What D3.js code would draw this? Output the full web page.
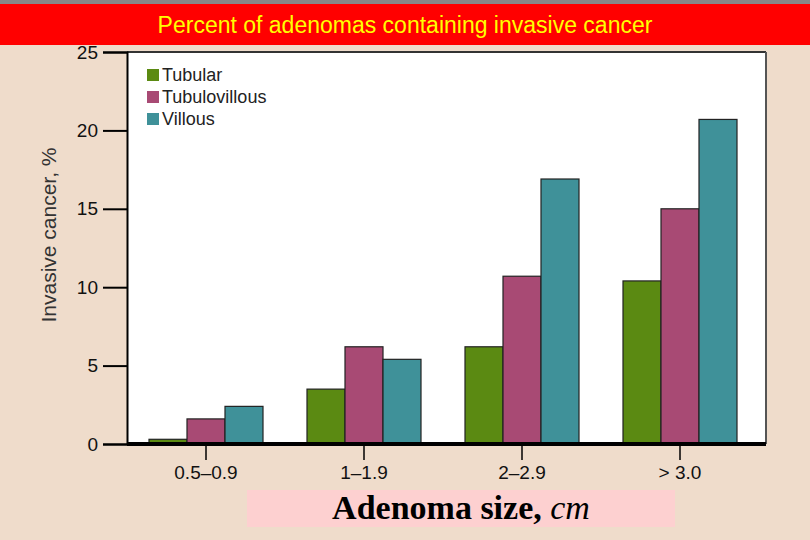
<!DOCTYPE html>
<html><head><meta charset="utf-8">
<script src="https://cdn.jsdelivr.net/npm/d3@7"></script>
<style>body{margin:0;background:#efdccb}</style>
</head><body>
<svg id="chart" width="810" height="540"></svg>
<script>
const categories = ["0.5–0.9", "1–1.9", "2–2.9", "> 3.0"];
const seriesNames = ["Tubular", "Tubulovillous", "Villous"];
const tubular = [0.3, 3.5, 6.2, 10.4];
const tubulovillous = [1.6, 6.2, 10.7, 15.0];
const villous = [2.4, 5.4, 16.9, 20.7];
const yTicks = [0, 5, 10, 15, 20, 25];
const colors = ["#5b8a12", "#a84a74", "#3f9199"];

const series = [tubular, tubulovillous, villous];
const svg = d3.select("#chart");
const narrow = "'Liberation Sans Narrow', 'Arial Narrow', 'Liberation Sans', sans-serif";

svg.append("rect").attr("width", 810).attr("height", 540).attr("fill", "#efdccb");
svg.append("rect").attr("width", 810).attr("height", 4).attr("fill", "#888");
svg.append("rect").attr("y", 4).attr("width", 810).attr("height", 41).attr("fill", "#ff0000");
svg.append("text").attr("x", 405).attr("y", 33).attr("text-anchor", "middle")
    .attr("fill", "#ffff00").attr("font-family", "'Liberation Sans', Arial, sans-serif")
    .attr("font-size", 23).text("Percent of adenomas containing invasive cancer");

const pLeft = 127, pRight = 766, pTop = 52, pBottom = 444;
svg.append("rect").attr("x", pLeft).attr("y", pTop).attr("width", pRight - pLeft).attr("height", pBottom - pTop)
    .attr("fill", "#fff");
svg.append("line").attr("x1", pLeft).attr("x2", pRight).attr("y1", pTop).attr("y2", pTop).attr("stroke", "#333").attr("stroke-width", 2);
svg.append("line").attr("x1", pRight).attr("x2", pRight).attr("y1", pTop).attr("y2", pBottom).attr("stroke", "#555").attr("stroke-width", 2);

const x = d3.scaleBand().domain(categories).range([pLeft, pLeft + 632]);
const y = d3.scaleLinear().domain([0, 25]).range([pBottom, pTop]);
const xs = d3.scaleBand().domain(d3.range(3)).range([-57, 57]);

categories.forEach((c, i) => {
    series.forEach((s, j) => {
        svg.append("rect")
            .attr("x", x(c) + x.bandwidth() / 2 + xs(j))
            .attr("y", y(s[i]))
            .attr("width", xs.bandwidth())
            .attr("height", y(0) - y(s[i]))
            .attr("fill", colors[j]).attr("stroke", "#222").attr("stroke-width", 1.2);
    });
});

const yAxis = svg.append("g").attr("transform", `translate(${pLeft},0)`)
    .call(d3.axisLeft(y).tickValues(yTicks).tickSize(24).tickPadding(5));
yAxis.select(".domain").attr("stroke", "#000").attr("stroke-width", 2);
yAxis.selectAll("line").attr("stroke", "#000").attr("stroke-width", 2);
yAxis.selectAll("text").attr("font-family", narrow).attr("font-size", 19).attr("fill", "#111");

const xAxis = svg.append("g").attr("transform", `translate(0,${pBottom})`)
    .call(d3.axisBottom(x).tickSize(16).tickPadding(6));
xAxis.select(".domain").attr("d", `M${pLeft},0H${pRight}`).attr("stroke", "#000").attr("stroke-width", 4);
xAxis.selectAll("line").attr("stroke", "#000").attr("stroke-width", 1.5);
xAxis.selectAll("text").attr("font-family", narrow).attr("font-size", 19).attr("fill", "#111");

svg.append("text").attr("transform", "translate(56,235) rotate(-90)").attr("text-anchor", "middle")
    .attr("font-family", narrow).attr("font-size", 21).attr("fill", "#333").text("Invasive cancer, %");

seriesNames.forEach((n, j) => {
    svg.append("rect").attr("x", 147).attr("y", 69 + j * 22).attr("width", 12).attr("height", 12)
        .attr("fill", colors[j]);
    svg.append("text").attr("x", 162).attr("y", 81 + j * 22).attr("font-family", narrow)
        .attr("font-size", 18).attr("fill", "#222").text(n);
});

svg.append("rect").attr("x", 247).attr("y", 490).attr("width", 428).attr("height", 37).attr("fill", "#fdd0d0");
const xl = svg.append("text").attr("x", 461).attr("y", 519).attr("text-anchor", "middle")
    .attr("font-family", "'Liberation Serif', 'Times New Roman', serif").attr("font-size", 34).attr("fill", "#000");
xl.append("tspan").attr("font-weight", "bold").text("Adenoma size, ");
xl.append("tspan").attr("font-style", "italic").text("cm");
</script>
</body></html>
